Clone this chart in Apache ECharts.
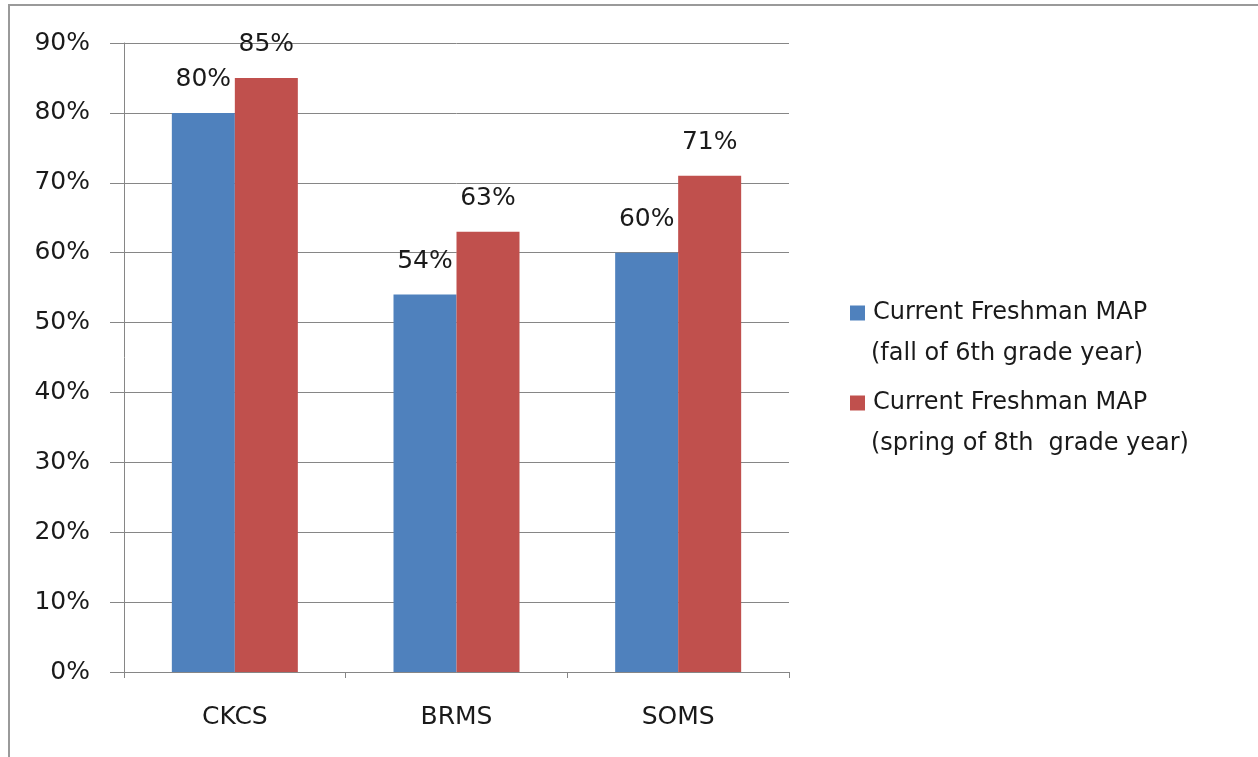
<!DOCTYPE html>
<html>
<head>
<meta charset="utf-8">
<script src="https://cdn.jsdelivr.net/npm/echarts@6/dist/echarts.min.js"></script>
<style>
html,body{margin:0;padding:0;background:#fff;}
#chart{width:1258px;height:757px;}
</style>
</head>
<body>
<div id="chart"></div>
<script>
const categories = ['CKCS', 'BRMS', 'SOMS'];
const fallValues = [80, 54, 60];
const springValues = [85, 63, 71];
const seriesNames = ['Current Freshman MAP (fall of 6th grade year)', 'Current Freshman MAP (spring of 8th grade year)'];
const legendFirstLines = ['Current Freshman MAP', 'Current Freshman MAP'];
const legendSubLines = ['(fall of 6th grade year)', '(spring of 8th  grade year)'];
const yTicks = [0, 10, 20, 30, 40, 50, 60, 70, 80, 90];

const FONT = '"DejaVu Sans", sans-serif';
const TXT = '#1a1a1a';
const chart = echarts.init(document.getElementById('chart'));
chart.setOption({
  animation: false,
  backgroundColor: '#ffffff',
  textStyle: { fontFamily: FONT },
  grid: { left: 124, right: 469, top: 43, bottom: 85, containLabel: false },
  legend: {
    data: seriesNames,
    orient: 'vertical',
    left: 845,
    top: 293,
    itemWidth: 15,
    itemHeight: 15,
    itemGap: 60,
    icon: 'rect',
    formatter: function (name) { return legendFirstLines[seriesNames.indexOf(name)]; },
    textStyle: { fontFamily: FONT, fontSize: 24, color: TXT, lineHeight: 30, padding: [0, 0, 0, 3] }
  },
  graphic: [
    { type: 'rect', shape: { x: 9, y: 5, width: 1300, height: 800 }, style: { fill: 'none', stroke: '#9a9a9a', lineWidth: 2 }, silent: true, z: -1 },
    { type: 'text', x: 871, y: 354, style: { text: legendSubLines[0], font: '24px ' + FONT, fill: TXT, verticalAlign: 'middle' } },
    { type: 'text', x: 871, y: 444, style: { text: legendSubLines[1], font: '24px ' + FONT, fill: TXT, verticalAlign: 'middle' } }
  ],
  xAxis: {
    type: 'category',
    data: categories,
    axisLine: { show: true, lineStyle: { color: '#868686', width: 1 } },
    axisTick: { show: true, length: 6, inside: false, lineStyle: { color: '#868686' } },
    axisLabel: { fontFamily: FONT, fontSize: 25, color: TXT, margin: 33 }
  },
  yAxis: {
    type: 'value',
    min: yTicks[0],
    max: yTicks[yTicks.length - 1],
    interval: 10,
    axisLine: { show: true, lineStyle: { color: '#868686', width: 1 } },
    axisTick: { show: true, length: 14, inside: false, lineStyle: { color: '#868686' } },
    splitLine: { show: true, lineStyle: { color: '#868686', width: 1 } },
    axisLabel: { fontFamily: FONT, fontSize: 25, color: TXT, margin: 34, formatter: '{value}%' }
  },
  series: [
    {
      name: seriesNames[0], type: 'bar', data: fallValues, barWidth: 63, barGap: '0%',
      itemStyle: { color: '#4F81BD' },
      label: { show: true, position: 'top', distance: 21, formatter: '{c}%', fontFamily: FONT, fontSize: 25, color: TXT }
    },
    {
      name: seriesNames[1], type: 'bar', data: springValues, barWidth: 63, barGap: '0%',
      itemStyle: { color: '#C0504D' },
      label: { show: true, position: 'top', distance: 21, formatter: '{c}%', fontFamily: FONT, fontSize: 25, color: TXT }
    }
  ]
});
</script>
</body>
</html>
